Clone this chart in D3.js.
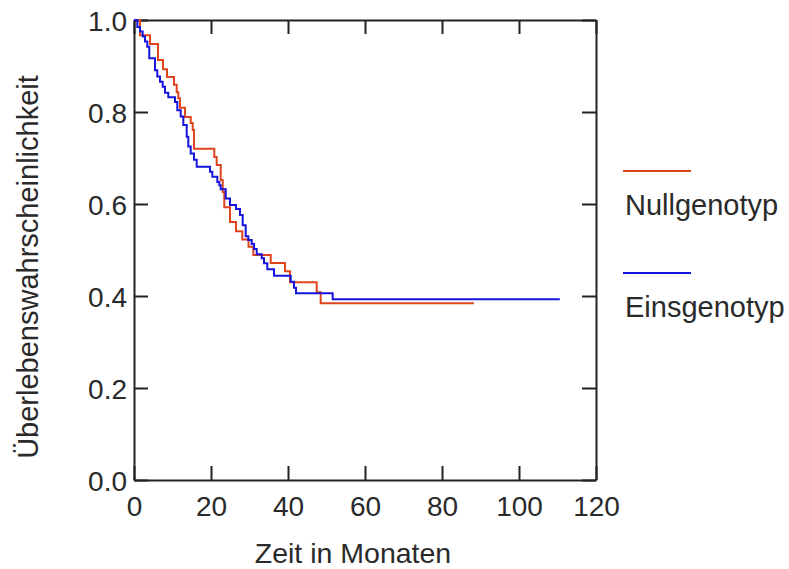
<!DOCTYPE html>
<html>
<head>
<meta charset="utf-8">
<script src="https://cdn.jsdelivr.net/npm/d3@7"></script>
<style>
  html, body { margin: 0; padding: 0; background: #fff; }
  svg { display: block; }
  text { font-family: "Liberation Sans", Arial, sans-serif; fill: #2a2a2a; }
</style>
</head>
<body>
<svg id="chart" width="789" height="569"></svg>
<script>
// Kaplan-Meier step data: event times (months) and survival after each step
const nullTimes = [1.56, 4.16, 6.23, 7.53, 8.57, 10.39, 11.09, 11.51, 11.95, 13.25, 14.73, 15.25, 15.58,
  20.86, 21.48, 22.52, 23.04, 23.45, 24.94, 26.49, 28.13, 29.74, 30.99, 35.51, 39.22, 40.52, 47.45, 48.49];
const nullSurv = [0.967, 0.948, 0.913, 0.893, 0.876, 0.859, 0.843, 0.830, 0.809, 0.789, 0.776, 0.761, 0.720,
  0.702, 0.685, 0.652, 0.626, 0.593, 0.561, 0.541, 0.523, 0.507, 0.489, 0.472, 0.454, 0.430, 0.408, 0.384];
const nullEnd = 88.3;

const einsTimes = [0.86, 1.56, 2.26, 2.86, 3.45, 3.97, 5.45, 6.05, 6.75, 7.45, 8.05, 8.91, 10.65, 11.25,
  12.13, 12.81, 13.69, 14.10, 14.73, 15.58, 16.29, 19.74, 20.34, 21.64, 22.16, 22.52, 23.82, 24.94, 26.49,
  27.53, 28.23, 29.01, 29.69, 30.57, 31.17, 31.87, 33.17, 33.77, 34.62, 36.36, 40.70, 41.56, 42.08, 51.61];
const einsSurv = [0.985, 0.975, 0.964, 0.953, 0.942, 0.917, 0.891, 0.877, 0.866, 0.855, 0.842, 0.832, 0.822, 0.804,
  0.790, 0.772, 0.746, 0.725, 0.710, 0.696, 0.681, 0.670, 0.659, 0.648, 0.641, 0.632, 0.612, 0.598, 0.589,
  0.576, 0.554, 0.530, 0.522, 0.513, 0.502, 0.491, 0.482, 0.471, 0.458, 0.444, 0.431, 0.418, 0.406, 0.393];
const einsEnd = 110.6;

const seriesNames = ["Nullgenotyp", "Einsgenotyp"];
const seriesColors = ["#e0441c", "#1414dc"];
const xTicks = [0, 20, 40, 60, 80, 100, 120];
const yTicks = [0, 0.2, 0.4, 0.6, 0.8, 1.0];

const svg = d3.select("#chart");
const x = d3.scaleLinear().domain([0, 120]).range([134, 596]);
const y = d3.scaleLinear().domain([0, 1]).range([480, 20]);
const FONT = 28;
const INK = "#222";
const TEXT_INK = "#2a2a2a";

function stepPoints(times, surv, end) {
  const pts = [[0, 1]];
  times.forEach((t, i) => pts.push([t, surv[i]]));
  pts.push([end, surv[surv.length - 1]]);
  return pts;
}

const line = d3.line()
  .x(d => x(d[0]))
  .y(d => y(d[1]))
  .curve(d3.curveStepAfter);

// Frame with inward ticks on all four sides
function styleAxis(g) {
  g.attr("font-family", null).attr("font-size", null);
  g.selectAll("path.domain").attr("stroke", INK).attr("stroke-width", 2);
  g.selectAll(".tick line").attr("stroke", INK).attr("stroke-width", 2);
  g.selectAll(".tick text").attr("font-size", FONT).attr("fill", TEXT_INK);
}

svg.append("g")
  .attr("transform", `translate(0,${y(0)})`)
  .call(d3.axisBottom(x).tickValues(xTicks).tickFormat(d3.format("d"))
    .tickSize(-14).tickSizeOuter(0).tickPadding(16))
  .call(styleAxis);

svg.append("g")
  .attr("transform", `translate(0,${y(1)})`)
  .call(d3.axisTop(x).tickValues(xTicks).tickFormat("")
    .tickSize(-14).tickSizeOuter(0))
  .call(styleAxis);

svg.append("g")
  .attr("transform", `translate(${x(0)},0)`)
  .call(d3.axisLeft(y).tickValues(yTicks).tickFormat(d3.format(".1f"))
    .tickSize(-14).tickSizeOuter(0).tickPadding(7))
  .call(styleAxis)
  .call(g => g.selectAll(".tick text").attr("dy", "0.38em"));

svg.append("g")
  .attr("transform", `translate(${x(120)},0)`)
  .call(d3.axisRight(y).tickValues(yTicks).tickFormat("")
    .tickSize(-14).tickSizeOuter(0))
  .call(styleAxis);

// Survival curves
const curves = [
  stepPoints(nullTimes, nullSurv, nullEnd),
  stepPoints(einsTimes, einsSurv, einsEnd)
];
svg.append("g")
  .selectAll("path")
  .data(curves)
  .join("path")
  .attr("d", line)
  .attr("fill", "none")
  .attr("stroke", (d, i) => seriesColors[i])
  .attr("stroke-width", 2);

// Axis titles
svg.append("text")
  .attr("x", 353)
  .attr("y", 563)
  .attr("text-anchor", "middle")
  .attr("font-size", FONT + 0.5)
  .text("Zeit in Monaten");

svg.append("text")
  .attr("transform", "translate(38,267) rotate(-90)")
  .attr("text-anchor", "middle")
  .attr("font-size", FONT + 1)
  .text("Überlebenswahrscheinlichkeit");

// Legend: line sample above each label
const legend = svg.append("g")
  .selectAll("g")
  .data(seriesNames)
  .join("g")
  .attr("transform", (d, i) => `translate(623,${171 + i * 102})`);

legend.append("line")
  .attr("x1", 0).attr("x2", 68)
  .attr("y1", 0).attr("y2", 0)
  .attr("stroke", (d, i) => seriesColors[i])
  .attr("stroke-width", 2);

legend.append("text")
  .attr("x", 2)
  .attr("y", 44)
  .attr("font-size", FONT + 1)
  .text(d => d);
</script>
</body>
</html>
